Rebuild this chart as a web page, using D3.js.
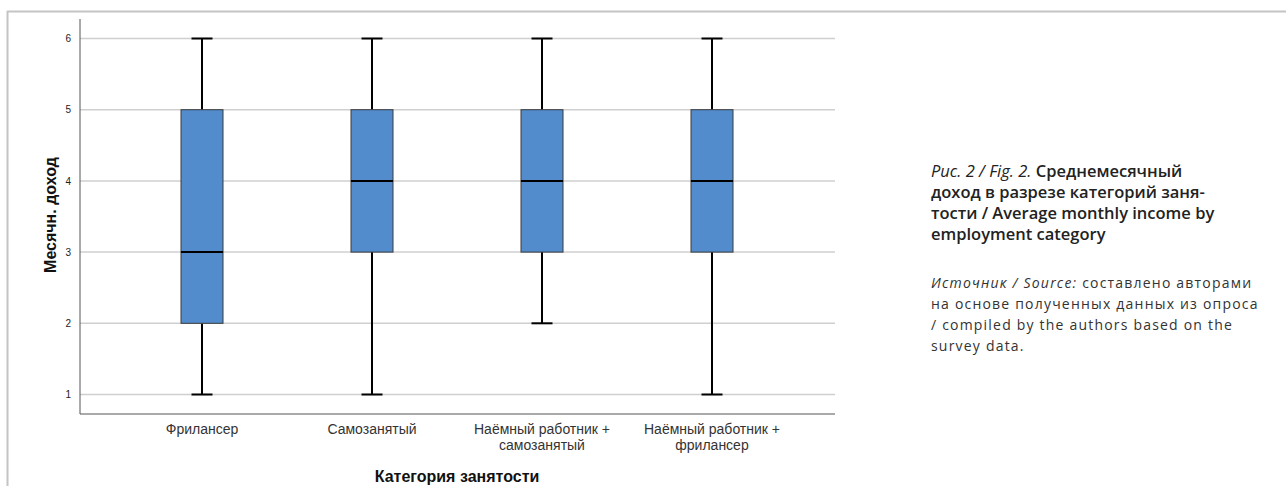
<!DOCTYPE html>
<html><head><meta charset="utf-8">
<script src="https://cdn.jsdelivr.net/npm/d3@7"></script>
<style>
body{margin:0;background:#fff;}
svg{display:block;}
</style></head>
<body>
<svg id="c" width="1286" height="486"></svg>
<script>
const categories = [["Фрилансер"], ["Самозанятый"], ["Наёмный работник +", "самозанятый"], ["Наёмный работник +", "фрилансер"]];
const catKeys = ["Фрилансер", "Самозанятый", "Наёмный работник + самозанятый", "Наёмный работник + фрилансер"];
const mins = [1, 1, 2, 1];
const q1s = [2, 3, 3, 3];
const medians = [3, 4, 4, 4];
const q3s = [5, 5, 5, 5];
const maxs = [6, 6, 6, 6];
const yTicks = [1, 2, 3, 4, 5, 6];

const svg = d3.select("#c");
// frame
svg.append("line").attr("x1", 7).attr("x2", 1286).attr("y1", 11.5).attr("y2", 11.5).attr("stroke", "#c4c4c4").attr("stroke-width", 2);
svg.append("line").attr("x1", 7.5).attr("x2", 7.5).attr("y1", 11).attr("y2", 486).attr("stroke", "#c4c4c4").attr("stroke-width", 2);

const y = d3.scaleLinear().domain([1, 6]).range([394.5, 38.5]);
const x = d3.scaleBand().domain(catKeys).range([117, 797]);
const plotL = 80, plotR = 835, plotT = 19, plotB = 414;

// gridlines
svg.append("g").selectAll("line").data(yTicks).join("line")
  .attr("x1", plotL).attr("x2", plotR)
  .attr("y1", d => y(d)).attr("y2", d => y(d))
  .attr("stroke", "#cfcfcf").attr("stroke-width", 1.5);

// y axis
const yAxis = svg.append("g").attr("transform", `translate(${plotL},0)`)
  .call(d3.axisLeft(y).tickValues(yTicks).tickSize(0).tickPadding(9).tickFormat(d3.format("d")));
yAxis.select(".domain").remove();
yAxis.selectAll("text").attr("font-family", "Arial, 'Liberation Sans', sans-serif").attr("font-size", 10).attr("fill", "#222");
svg.append("line").attr("x1", plotL).attr("x2", plotL).attr("y1", plotT).attr("y2", plotB).attr("stroke", "#555").attr("stroke-width", 1);
svg.append("line").attr("x1", plotL).attr("x2", plotR).attr("y1", plotB).attr("y2", plotB).attr("stroke", "#555").attr("stroke-width", 1);

// boxes
const data = catKeys.map((k, i) => ({k, lines: categories[i], min: mins[i], q1: q1s[i], med: medians[i], q3: q3s[i], max: maxs[i]}));
const bw = 42, cw = 21;
const g = svg.append("g").selectAll("g").data(data).join("g")
  .attr("transform", d => `translate(${x(d.k) + x.bandwidth() / 2},0)`);
g.append("line").attr("x1", 0).attr("x2", 0).attr("y1", d => y(d.max)).attr("y2", d => y(d.q3)).attr("stroke", "#000").attr("stroke-width", 2);
g.append("line").attr("x1", 0).attr("x2", 0).attr("y1", d => y(d.q1)).attr("y2", d => y(d.min)).attr("stroke", "#000").attr("stroke-width", 2);
g.append("line").attr("x1", -cw / 2).attr("x2", cw / 2).attr("y1", d => y(d.max)).attr("y2", d => y(d.max)).attr("stroke", "#000").attr("stroke-width", 2);
g.append("line").attr("x1", -cw / 2).attr("x2", cw / 2).attr("y1", d => y(d.min)).attr("y2", d => y(d.min)).attr("stroke", "#000").attr("stroke-width", 2);
g.append("rect").attr("x", -bw / 2).attr("width", bw)
  .attr("y", d => y(d.q3)).attr("height", d => y(d.q1) - y(d.q3))
  .attr("fill", "#528ccc").attr("stroke", "#3a3a3a").attr("stroke-width", 1);
g.append("line").attr("x1", -bw / 2).attr("x2", bw / 2).attr("y1", d => y(d.med)).attr("y2", d => y(d.med)).attr("stroke", "#000").attr("stroke-width", 2);

// x labels
g.append("text").attr("text-anchor", "middle")
  .attr("font-family", "Arial, 'Liberation Sans', sans-serif").attr("font-size", 14).attr("fill", "#333")
  .selectAll("tspan").data(d => d.lines).join("tspan")
  .attr("x", 0).attr("y", (d, i) => 434 + i * 16).text(d => d);

// axis titles
svg.append("text").attr("x", 457).attr("y", 482).attr("text-anchor", "middle")
  .attr("font-family", "Arial, 'Liberation Sans', sans-serif").attr("font-size", 16).attr("font-weight", "bold").attr("fill", "#111")
  .text("Категория занятости");
svg.append("text").attr("transform", "translate(56,215) rotate(-90)").attr("text-anchor", "middle")
  .attr("font-family", "Arial, 'Liberation Sans', sans-serif").attr("font-size", 16).attr("font-weight", "bold").attr("fill", "#111")
  .text("Месячн. доход");

// caption
const capFont = "'Open Sans', 'Noto Sans', sans-serif";
const cap = svg.append("text").attr("font-family", capFont).attr("font-size", 16.5).attr("fill", "#222");
const capLines = [
  [["Рис. 2 / Fig. 2. ", "italic", "normal"], ["Среднемесячный", "normal", "600"]],
  [["доход в разрезе категорий заня-", "normal", "600"]],
  [["тости / Average monthly income by", "normal", "600"]],
  [["employment category", "normal", "600"]]
];
capLines.forEach((ln, i) => {
  ln.forEach((seg, j) => {
    const t = cap.append("tspan").text(seg[0]).attr("font-style", seg[1]).attr("font-weight", seg[2]);
    if (j === 0) t.attr("x", 931).attr("y", 177 + i * 21);
  });
});
const src = svg.append("text").attr("font-family", capFont).attr("font-size", 14).attr("letter-spacing", 1.2).attr("fill", "#333");
const srcLines = [
  [["Источник / Source: ", "italic"], ["составлено авторами", "normal"]],
  [["на основе полученных данных из опроса", "normal"]],
  [["/ compiled by the authors based on the", "normal"]],
  [["survey data.", "normal"]]
];
srcLines.forEach((ln, i) => {
  ln.forEach((seg, j) => {
    const t = src.append("tspan").text(seg[0]).attr("font-style", seg[1]);
    if (j === 0) t.attr("x", 931).attr("y", 288 + i * 21);
  });
});
</script>
</body></html>
